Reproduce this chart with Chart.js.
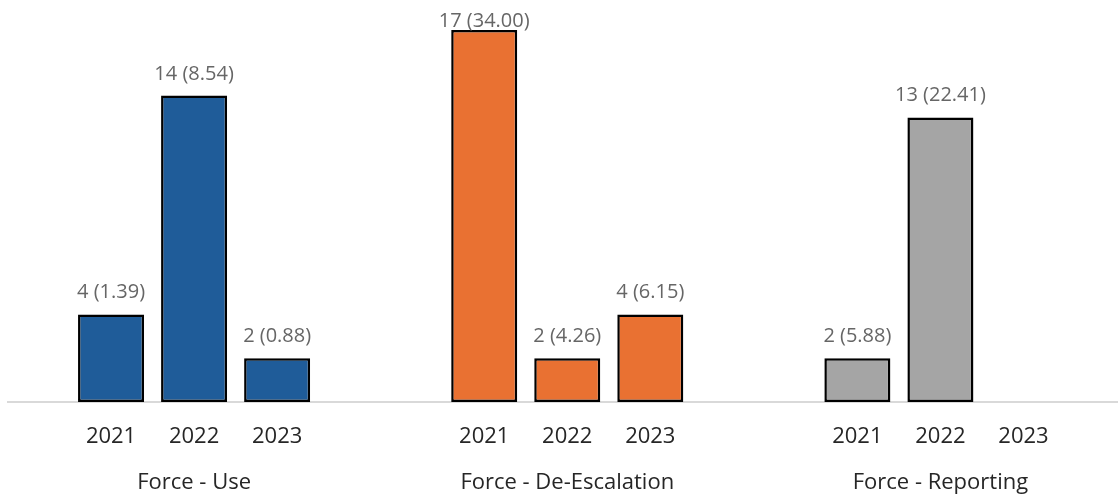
<!DOCTYPE html>
<html>
<head>
<meta charset="utf-8">
<script src="https://cdn.jsdelivr.net/npm/chart.js@4.4.1/dist/chart.umd.min.js"></script>
<style>
  html, body { margin: 0; padding: 0; background: #fff; overflow: hidden; }
  #wrap { width: 1127px; height: 498px; }
</style>
</head>
<body>
<div id="wrap"><canvas id="forceChart" width="1127" height="498"></canvas></div>
<script>
const groups = ['Force - Use', 'Force - De-Escalation', 'Force - Reporting'];
const years = ['2021', '2022', '2023'];
const groupColors = ['#1f5c99', '#e97132', '#a5a5a5'];

// counts per year, one entry per group
const counts2021 = [4, 17, 2];
const counts2022 = [14, 2, 13];
const counts2023 = [2, 4, null];

// rates shown in brackets
const rates2021 = [1.39, 34.00, 5.88];
const rates2022 = [8.54, 4.26, 22.41];
const rates2023 = [0.88, 6.15, null];

const counts = [counts2021, counts2022, counts2023];
const rates = [rates2021, rates2022, rates2023];

const FONT = "'Open Sans', 'Noto Sans', sans-serif";

// value labels above bars and year labels under each bar
const barLabels = {
  id: 'barLabels',
  afterDatasetsDraw(chart) {
    const ctx = chart.ctx;
    const area = chart.chartArea;
    ctx.save();
    ctx.textAlign = 'center';
    chart.data.datasets.forEach((ds, di) => {
      const meta = chart.getDatasetMeta(di);
      meta.data.forEach((bar, i) => {
        const v = counts[di][i];
        // year label
        ctx.font = '22px ' + FONT;
        ctx.fillStyle = '#262626';
        ctx.textBaseline = 'middle';
        ctx.fillText(years[di], bar.x, area.bottom + 35);
        if (v == null) return;
        ctx.font = '20px ' + FONT;
        ctx.fillStyle = '#666666';
        ctx.textBaseline = 'alphabetic';
        const y = Math.max(bar.y - 16, 27);
        ctx.fillText(v + ' (' + rates[di][i].toFixed(2) + ')', bar.x, y);
      });
    });
    ctx.restore();
  }
};

new Chart(document.getElementById('forceChart').getContext('2d'), {
  type: 'bar',
  data: {
    labels: groups,
    datasets: years.map((yr, i) => ({
      label: yr,
      data: counts[i],
      backgroundColor: groupColors,
      borderColor: '#000000',
      borderWidth: 2.5,
      borderSkipped: false,
      categoryPercentage: 0.6676,
      barPercentage: 0.795
    }))
  },
  options: {
    responsive: false,
    animation: false,
    layout: { padding: { left: 7.5, right: 0, top: 8, bottom: 1 } },
    plugins: {
      legend: { display: false },
      tooltip: { enabled: false }
    },
    scales: {
      x: {
        grid: { display: false, drawTicks: false },
        border: { display: true, color: '#d9d9d9', width: 2 },
        ticks: {
          padding: 68,
          color: '#262626',
          font: { family: FONT, size: 22 }
        },
        afterFit(scale) { scale.height = 95; }
      },
      y: {
        display: false,
        min: 0,
        max: 18
      }
    }
  },
  plugins: [barLabels]
});
</script>
</body>
</html>
